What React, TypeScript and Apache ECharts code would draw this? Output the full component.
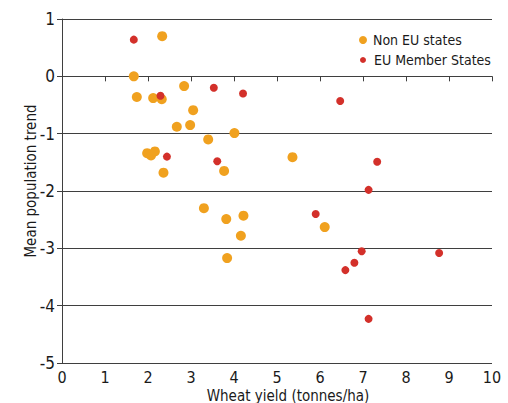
import React, { useEffect, useRef } from "react";
import * as echarts from "echarts";

const nonEU: [number, number][] = [
  [2.33, 0.7], [1.67, 0.0], [2.84, -0.17], [1.74, -0.36], [2.12, -0.38], [2.32, -0.4],
  [3.05, -0.59], [2.67, -0.88], [2.98, -0.85], [4.01, -0.99], [3.4, -1.1], [1.98, -1.34],
  [2.07, -1.38], [2.16, -1.31], [3.77, -1.65], [2.36, -1.68], [5.36, -1.41], [3.3, -2.3],
  [3.82, -2.49], [4.22, -2.43], [4.16, -2.78], [3.84, -3.17], [6.11, -2.63],
];

const euMembers: [number, number][] = [
  [1.67, 0.64], [3.53, -0.2], [4.21, -0.3], [2.29, -0.34], [2.44, -1.4], [3.61, -1.48],
  [6.47, -0.43], [7.33, -1.49], [7.13, -1.98], [5.9, -2.4], [6.97, -3.05], [6.8, -3.25],
  [6.59, -3.38], [8.77, -3.08], [7.13, -4.23],
];

const seriesNames = ["Non EU states", "EU Member States"];
const xTitle = "Wheat yield (tonnes/ha)";
const yTitle = "Mean population trend";

const FONT = '"Liberation Sans Narrow", "DejaVu Sans Condensed", "Noto Sans", sans-serif';
const ORANGE = "#f0a11f";
const RED = "#d3302a";
const LINE = "#3f3f3f";
const TEXT = "#1a1a1a";

export default function App() {
  const ref = useRef<HTMLDivElement>(null);
  useEffect(() => {
    if (!ref.current) return;
    const chart = echarts.init(ref.current, undefined, { renderer: "svg" });
    chart.setOption({
      animation: false,
      backgroundColor: "#ffffff",
      textStyle: { fontFamily: FONT },
      grid: { left: 62, right: 16, top: 19, bottom: 40, containLabel: false, outerBoundsMode: "none" },
      legend: [
        {
          data: [seriesNames[0]],
          left: 359,
          top: 33,
          icon: "circle",
          itemWidth: 8,
          itemHeight: 8,
          itemGap: 0,
          padding: 0,
          textStyle: { fontFamily: FONT, fontSize: 14, color: TEXT, padding: [0, 0, 0, 1] },
        },
        {
          data: [seriesNames[1]],
          left: 360,
          top: 53,
          icon: "circle",
          itemWidth: 6,
          itemHeight: 6,
          itemGap: 0,
          padding: 0,
          textStyle: { fontFamily: FONT, fontSize: 14, color: TEXT, padding: [0, 0, 0, 3] },
        },
      ],
      xAxis: {
        type: "value",
        min: 0,
        max: 10,
        interval: 1,
        name: xTitle,
        nameLocation: "middle",
        nameGap: 25,
        nameMoveOverlap: false,
        nameTextStyle: { fontFamily: FONT, fontSize: 15, lineHeight: 15, color: TEXT, padding: [0, 0, 0, 22] },
        axisLine: { show: true, lineStyle: { color: LINE, width: 1 } },
        axisTick: { show: true, length: 5, lineStyle: { color: LINE } },
        axisLabel: { fontFamily: FONT, fontSize: 16, lineHeight: 16, color: TEXT, margin: 6 },
        splitLine: { show: false },
      },
      yAxis: {
        type: "value",
        min: -5,
        max: 1,
        interval: 1,
        name: yTitle,
        nameLocation: "middle",
        nameGap: 24,
        nameMoveOverlap: false,
        nameTextStyle: { fontFamily: FONT, fontSize: 15, color: TEXT, padding: [0, 0, 0, 20] },
        axisLine: { show: true, onZero: false, lineStyle: { color: LINE, width: 1 } },
        axisTick: { show: true, length: 5, lineStyle: { color: LINE } },
        axisLabel: { fontFamily: FONT, fontSize: 17, color: TEXT, margin: 7 },
        splitLine: { show: true, lineStyle: { color: LINE, width: 1 } },
      },
      series: [
        {
          name: seriesNames[0],
          type: "scatter",
          data: nonEU,
          symbol: "circle",
          symbolSize: 10,
          itemStyle: { color: ORANGE, opacity: 1 },
        },
        {
          name: seriesNames[1],
          type: "scatter",
          data: euMembers,
          symbol: "circle",
          symbolSize: 8,
          itemStyle: { color: RED, opacity: 1 },
        },
      ],
    });
    return () => chart.dispose();
  }, []);
  return <div ref={ref} style={{ position: "fixed", left: 0, top: 0, width: 508, height: 403 }} />;
}
